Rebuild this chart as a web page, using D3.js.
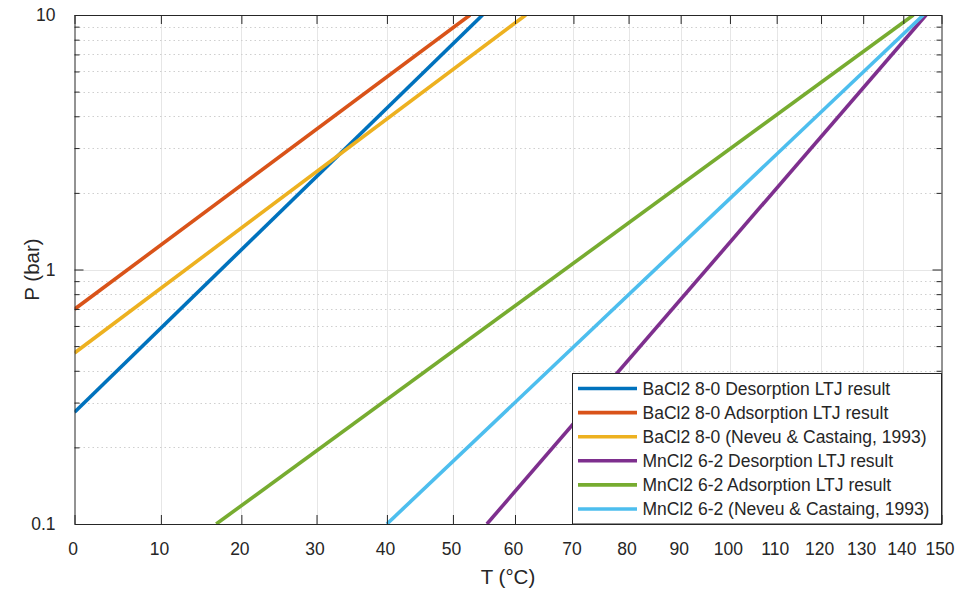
<!DOCTYPE html>
<html>
<head>
<meta charset="utf-8">
<script src="https://cdn.jsdelivr.net/npm/d3@7"></script>
<style>
body { margin: 0; background: #fff; }
text { font-family: Arial, "Liberation Sans", Helvetica, sans-serif; fill: #262626; }
</style>
</head>
<body>
<div id="chart"></div>
<script>
// series endpoints [T (degC), P (bar)]
var bacl2Des = [[0, 0.275], [54.7, 10]];
var bacl2Ads = [[0, 0.698], [52.7, 10]];
var bacl2Ref = [[0, 0.470], [61.8, 10]];
var mncl2Des = [[55.4, 0.1], [145.9, 10]];
var mncl2Ads = [[16.8, 0.1], [142.6, 10]];
var mncl2Ref = [[40.0, 0.1], [145.2, 10]];

var seriesNames = [
    "BaCl2 8-0 Desorption LTJ result",
    "BaCl2 8-0 Adsorption LTJ result",
    "BaCl2 8-0 (Neveu & Castaing, 1993)",
    "MnCl2 6-2 Desorption LTJ result",
    "MnCl2 6-2 Adsorption LTJ result",
    "MnCl2 6-2 (Neveu & Castaing, 1993)"
];
var seriesData = [bacl2Des, bacl2Ads, bacl2Ref, mncl2Des, mncl2Ads, mncl2Ref];
var colors = ["#0072BD", "#D95319", "#EDB120", "#7E2F8E", "#77AC30", "#4DBEEE"];

var xTicks = [0, 10, 20, 30, 40, 50, 60, 70, 80, 90, 100, 110, 120, 130, 140, 150];
var yTicks = [0.1, 1, 10];
var yMinor = [0.2, 0.3, 0.4, 0.5, 0.6, 0.7, 0.8, 0.9, 2, 3, 4, 5, 6, 7, 8, 9];

var width = 960;
var height = 590;
var pLeft = 74.5, pRight = 941.5, pTop = 15, pBottom = 524;

var svg = d3.select("#chart")
    .append("svg")
    .attr("width", width)
    .attr("height", height);

// x axis is linear in -1/T(K), labelled in degC
function inv(t) { return -1 / (t + 273.15); }
var xInv = d3.scaleLinear().domain([inv(0), inv(150)]).range([pLeft, pRight]);
function xPos(t) { return xInv(inv(t)); }
var y = d3.scaleLog().domain([0.1, 10]).range([pBottom, pTop]);

// grid
var grid = svg.append("g");
grid.selectAll(".vgrid").data(xTicks.slice(1, -1)).enter()
    .append("line")
    .attr("x1", function(d){ return Math.round(xPos(d)) + 0.5; })
    .attr("x2", function(d){ return Math.round(xPos(d)) + 0.5; })
    .attr("y1", pTop).attr("y2", pBottom)
    .attr("stroke", "#e6e6e6").attr("stroke-width", 1);
grid.selectAll(".hminor").data(yMinor).enter()
    .append("line")
    .attr("x1", pLeft).attr("x2", pRight)
    .attr("y1", function(d){ return Math.round(y(d)) + 0.5; })
    .attr("y2", function(d){ return Math.round(y(d)) + 0.5; })
    .attr("stroke", "#cfcfcf").attr("stroke-width", 1)
    .attr("stroke-dasharray", "1.5,3");
grid.append("line")
    .attr("x1", pLeft).attr("x2", pRight)
    .attr("y1", Math.round(y(1)) + 0.5).attr("y2", Math.round(y(1)) + 0.5)
    .attr("stroke", "#e6e6e6").attr("stroke-width", 1);

// lines
svg.append("clipPath").attr("id", "clip")
    .append("rect").attr("x", pLeft).attr("y", pTop)
    .attr("width", pRight - pLeft).attr("height", pBottom - pTop);

var line = d3.line()
    .x(function(d){ return xPos(d[0]); })
    .y(function(d){ return y(d[1]); });

svg.append("g").attr("clip-path", "url(#clip)")
    .selectAll("path").data(seriesData).enter()
    .append("path")
    .attr("d", line)
    .attr("fill", "none")
    .attr("stroke", function(d, i){ return colors[i]; })
    .attr("stroke-width", 3.6);

// axes
var xTickVals = xTicks.map(inv);
var fmtT = function(v){ return Math.round(-1 / v - 273.15); };

var xAxis = d3.axisBottom(xInv).tickValues(xTickVals).tickFormat(fmtT)
    .tickSizeInner(-9).tickSizeOuter(0).tickPadding(19);
var gx = svg.append("g").attr("transform", "translate(0," + pBottom + ")").call(xAxis);
gx.selectAll(".tick text").attr("dx", -2);

var xTop = d3.axisTop(xInv).tickValues(xTickVals).tickFormat("")
    .tickSizeInner(-9).tickSizeOuter(0);
svg.append("g").attr("transform", "translate(0," + pTop + ")").call(xTop);

var yAxis = d3.axisLeft(y).tickValues(yTicks).tickFormat(function(d){ return d; })
    .tickSizeInner(-9).tickSizeOuter(0).tickPadding(19);
svg.append("g").attr("transform", "translate(" + pLeft + ",0)").call(yAxis);

var yRight = d3.axisRight(y).tickValues(yTicks).tickFormat("")
    .tickSizeInner(-9).tickSizeOuter(0);
svg.append("g").attr("transform", "translate(" + pRight + ",0)").call(yRight);

var yMinL = d3.axisLeft(y).tickValues(yMinor).tickFormat("").tickSizeInner(-5).tickSizeOuter(0);
svg.append("g").attr("class", "minor").attr("transform", "translate(" + pLeft + ",0)").call(yMinL);
var yMinR = d3.axisRight(y).tickValues(yMinor).tickFormat("").tickSizeInner(-5).tickSizeOuter(0);
svg.append("g").attr("class", "minor").attr("transform", "translate(" + pRight + ",0)").call(yMinR);

svg.selectAll(".domain").attr("stroke", "#262626");
svg.selectAll(".tick line").attr("stroke", "#262626");
svg.selectAll(".minor .domain").remove();
svg.selectAll(".tick text").attr("font-size", 17.5).style("fill", "#262626");

// axis titles
svg.append("text")
    .attr("x", (pLeft + pRight) / 2)
    .attr("y", 584)
    .attr("text-anchor", "middle")
    .attr("font-size", 20.5)
    .text("T (\u00B0C)");

svg.append("text")
    .attr("transform", "translate(" + 39 + "," + ((pTop + pBottom) / 2) + ")rotate(-90)")
    .attr("text-anchor", "middle")
    .attr("font-size", 20.5)
    .text("P (bar)");

// legend
var legX = 572.5, legY = 373.5, legW = pRight - 572.5, legH = pBottom - 373.5;
var legend = svg.append("g");
legend.append("rect")
    .attr("x", legX).attr("y", legY)
    .attr("width", legW).attr("height", legH)
    .attr("fill", "#fff").attr("stroke", "#262626").attr("stroke-width", 1);

var items = legend.selectAll(".item").data(seriesNames).enter()
    .append("g")
    .attr("transform", function(d, i){ return "translate(0," + (388.5 + i * 24.1) + ")"; });
items.append("line")
    .attr("x1", 578).attr("x2", 637)
    .attr("stroke", function(d, i){ return colors[i]; })
    .attr("stroke-width", 3.6);
items.append("text")
    .attr("x", 642.5)
    .attr("dy", "0.35em")
    .attr("font-size", 17.5)
    .text(function(d){ return d; });
</script>
</body>
</html>
